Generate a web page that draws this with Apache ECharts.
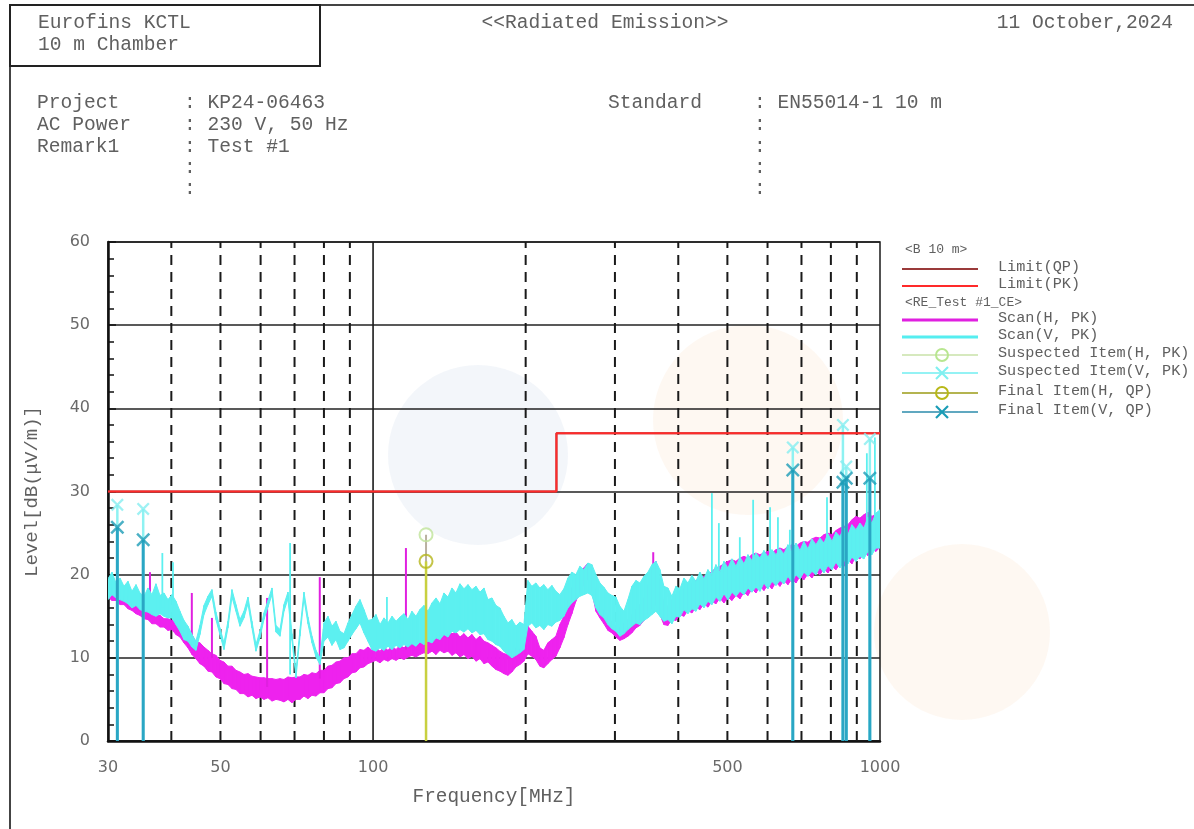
<!DOCTYPE html>
<html>
<head>
<meta charset="utf-8">
<script src="https://cdn.jsdelivr.net/npm/echarts/dist/echarts.min.js"></script>
<style>
html,body{margin:0;padding:0;background:#ffffff;}
#c{width:1194px;height:829px;}
</style>
</head>
<body>
<div id="c"></div>
<script>
// ---------- DATA ----------
const scanFreq = [
 30.0,30.55,31.11,31.68,32.26,32.85,33.45,34.07,34.69,35.33,
 35.97,36.63,37.30,37.99,38.68,39.39,40.11,40.85,41.60,42.36,
 43.14,43.93,44.73,45.55,46.39,47.24,48.10,48.98,49.88,50.80,
 51.73,52.68,53.64,54.63,55.63,56.65,57.69,58.75,59.82,60.92,
 62.04,63.18,64.34,65.52,66.72,67.94,69.19,70.46,71.75,73.06,
 74.40,75.77,77.16,78.57,80.01,81.48,82.97,84.49,86.04,87.62,
 89.23,90.86,92.53,94.22,95.95,97.71,99.50,101.3,103.2,105.1,
 107.0,109.0,111.0,113.0,115.1,117.2,119.3,121.5,123.7,126.0,
 128.3,130.7,133.1,135.5,138.0,140.5,143.1,145.7,148.4,151.1,
 153.9,156.7,159.6,162.5,165.5,168.5,171.6,174.7,177.9,181.2,
 184.5,187.9,191.3,194.8,198.4,202.0,205.7,209.5,213.3,217.2,
 221.2,225.3,229.4,233.6,237.9,242.3,246.7,251.2,255.8,260.5,
 265.3,270.2,275.2,280.2,285.3,290.6,295.9,301.3,306.8,312.5,
 318.2,324.0,330.0,336.0,342.2,348.5,354.9,361.4,368.0,374.7,
 381.6,388.6,395.7,403.0,410.4,417.9,425.6,433.4,441.3,449.4,
 457.7,466.1,474.6,483.3,492.2,501.2,510.4,519.8,529.3,539.0,
 548.9,558.9,569.2,579.6,590.2,601.1,612.1,623.3,634.7,646.4,
 658.2,670.3,682.6,695.1,707.8,720.8,734.0,747.5,761.2,775.1,
 789.3,803.8,818.5,833.5,848.8,864.4,880.2,896.4,912.8,929.5,
 946.6,963.9,981.6,1000
];

// Scan(V, PK): lower / upper edge of the noisy trace
const scanVLow = [
 17.0,17.6,17.2,17.0,16.8,16.5,16.0,16.3,15.8,15.6,
 15.5,15.2,15.0,15.3,15.0,14.8,14.8,14.0,13.2,12.2,
 12.0,11.3,10.9,12.8,15.2,16.4,17.4,14.6,12.8,11.0,
 13.6,17.3,15.6,13.8,14.8,16.5,13.6,10.8,12.4,14.6,
 16.1,17.6,13.1,12.6,15.6,17.1,12.1,7.6,12.6,17.1,
 14.1,11.8,10.1,9.2,12.0,12.5,11.5,12.2,11.0,11.2,
 12.0,12.8,13.5,14.2,13.0,12.0,11.0,10.8,11.2,10.9,
 11.4,11.0,11.5,11.2,11.6,11.3,11.7,11.4,11.9,11.6,
 12.0,11.8,12.4,12.2,12.8,12.5,13.2,13.0,13.4,13.1,
 13.5,13.0,13.3,12.8,12.9,12.2,12.0,11.6,11.4,10.8,
 10.4,10.0,10.3,10.6,11.0,13.8,14.2,13.6,13.9,13.4,
 14.0,13.8,14.3,14.5,15.0,16.0,16.6,17.0,17.4,17.6,
 17.8,17.5,16.0,15.2,14.8,14.0,13.5,13.2,12.6,12.9,
 13.4,13.8,14.2,14.0,14.5,14.8,15.2,15.6,15.0,14.4,
 14.6,14.1,15.0,14.9,15.8,15.3,15.9,15.6,16.5,16.0,
 16.8,16.4,17.3,16.8,17.7,17.0,17.9,17.4,18.0,17.6,
 18.4,17.9,18.5,18.0,19.0,18.3,19.2,18.7,19.3,18.9,
 19.8,19.1,20.0,19.5,20.3,19.8,20.4,20.0,20.9,20.2,
 21.1,20.6,21.5,20.8,21.7,21.3,22.1,21.6,22.2,21.9,
 22.8,22.4,23.2,23.2
];
const scanVHigh = [
 19.5,20.3,19.0,19.6,18.6,19.2,18.0,18.8,17.8,17.4,
 18.4,17.6,18.9,17.5,17.8,17.0,17.6,16.8,15.6,14.5,
 13.8,12.8,12.0,13.9,16.3,17.4,18.2,15.5,13.6,11.8,
 14.4,18.2,16.4,14.6,15.6,17.3,14.4,11.6,13.2,15.4,
 16.9,18.4,13.9,13.4,16.4,17.9,12.9,8.4,13.4,17.9,
 14.9,12.6,10.9,10.0,14.2,15.0,13.8,14.4,13.2,12.9,
 14.2,15.2,16.2,17.0,15.8,14.5,14.6,15.2,14.0,14.8,
 14.2,15.0,14.4,14.9,15.3,14.6,15.6,15.0,15.8,16.3,
 15.6,16.6,17.2,16.5,17.8,17.3,18.4,17.8,18.9,18.3,
 18.8,18.2,18.6,17.9,18.4,17.0,17.2,16.3,16.0,15.0,
 14.2,14.6,13.8,14.3,14.0,19.3,18.6,19.0,18.4,18.8,
 18.2,18.7,18.0,17.6,18.3,19.6,20.3,20.0,21.0,20.6,
 21.4,21.2,20.0,19.0,18.5,17.8,17.5,17.3,16.2,15.6,
 17.0,18.6,19.3,19.0,19.8,20.3,21.2,21.6,20.6,18.6,
 18.4,17.4,18.6,18.3,19.6,19.0,19.9,19.2,20.3,19.5,
 20.6,19.9,21.2,20.3,21.6,20.8,21.9,21.0,22.1,21.3,
 22.4,21.7,22.6,22.0,22.9,22.1,23.0,22.4,23.1,22.5,
 23.6,22.7,23.8,22.9,24.0,23.1,24.3,23.6,24.4,23.8,
 24.9,24.0,25.1,24.6,25.6,24.8,26.0,25.4,26.2,25.6,
 26.9,26.2,27.4,27.8
];

// Scan(H, PK): lower / upper edge of the noisy trace
const scanHLow = [
 17.3,16.9,16.9,16.4,16.4,15.9,15.7,15.3,15.1,14.7,
 14.6,14.1,14.1,13.7,13.7,13.3,13.4,12.8,12.5,11.8,
 11.2,10.4,9.9,9.3,9.0,8.4,8.3,7.7,7.5,6.9,
 6.8,6.3,6.2,5.7,5.7,5.3,5.5,5.1,5.3,5.0,
 5.2,4.8,5.0,4.9,4.7,5.0,4.6,5.0,5.0,5.4,
 5.1,5.5,5.4,5.8,5.8,6.3,6.4,6.9,7.0,7.5,
 7.7,8.2,8.3,8.8,8.9,9.3,9.5,9.7,9.4,9.8,
 9.6,9.9,9.7,10.0,9.8,10.1,10.3,10.1,10.4,10.6,
 10.5,10.8,10.4,10.9,10.6,10.8,10.3,10.6,10.1,10.4,
 9.9,10.2,9.6,9.9,9.3,9.5,9.0,8.6,8.4,8.1,
 7.9,8.3,8.9,9.2,9.6,10.5,10.2,9.8,9.0,8.8,
 9.3,9.8,10.2,11.2,12.4,14.0,15.3,16.8,17.9,18.8,
 19.5,18.0,15.6,14.8,14.1,13.3,13.0,12.5,12.1,12.3,
 12.6,13.0,13.6,13.9,14.5,15.4,16.0,16.4,15.2,14.0,
 13.9,14.6,14.5,15.2,15.0,15.7,15.4,16.1,15.8,16.5,
 16.1,16.8,16.5,17.2,16.6,17.3,16.9,17.5,17.1,17.9,
 17.5,18.3,17.8,18.6,18.1,18.8,18.3,19.1,18.6,19.3,
 18.8,19.5,19.0,19.8,19.4,20.1,19.6,20.4,20.0,20.7,
 20.2,21.0,20.6,21.3,21.0,21.8,21.3,22.2,21.9,22.7,
 22.3,23.1,22.8,23.3
];
const scanHHigh = [
 18.6,18.4,17.9,17.9,17.3,17.3,16.7,16.7,16.1,16.1,
 15.7,15.6,15.1,15.1,14.7,14.7,14.5,14.3,13.7,13.3,
 13.1,12.8,11.9,11.8,11.3,10.9,10.5,10.3,9.7,9.5,
 9.0,9.0,8.5,8.3,8.0,8.1,7.8,7.7,7.6,7.6,
 7.5,7.5,7.4,7.5,7.4,7.7,7.6,7.7,7.7,8.0,
 7.9,8.2,8.1,8.5,8.5,9.0,9.1,9.5,9.6,10.0,
 10.0,10.5,10.5,11.0,10.9,11.3,10.9,11.2,10.8,11.3,
 10.9,11.4,11.0,11.5,11.2,11.6,11.8,11.5,12.0,12.2,
 12.4,13.0,12.6,13.3,12.8,13.2,12.9,13.1,12.5,12.9,
 12.4,12.8,12.2,12.6,12.0,11.8,11.5,11.2,10.8,10.5,
 10.4,10.8,11.2,11.0,11.6,13.8,13.2,12.6,11.2,10.9,
 11.8,12.2,12.6,14.0,15.0,16.8,18.4,19.6,20.4,20.8,
 21.4,20.8,17.8,16.6,15.5,14.9,14.3,13.8,13.6,14.2,
 14.6,15.2,15.8,16.4,17.2,18.6,20.8,21.6,19.0,16.5,
 16.2,17.0,17.6,18.0,18.4,18.8,19.0,19.3,19.4,19.8,
 20.0,20.4,20.8,21.0,21.3,21.6,21.8,21.6,22.0,22.2,
 22.0,22.4,22.6,22.4,22.6,22.8,22.6,23.0,23.2,23.0,
 23.4,23.6,23.4,23.8,24.0,23.9,24.3,24.5,24.4,24.8,
 25.0,24.8,25.3,25.6,25.8,26.0,26.6,27.0,26.8,27.2,
 27.5,27.0,27.3,27.4
];

// narrow spurious spikes (freq, foot level, top level)
const spikeHFreq = [36.3, 43.9, 48.1, 61.8, 78.5, 116.1, 357, 990];
const spikeHBase = [15.5, 12.0, 10.0, 6.5, 7.5, 11.0, 17.0, 24.0];
const spikeHTop  = [20.3, 17.8, 14.8, 17.2, 19.7, 23.2, 22.7, 27.4];

const spikeVFreq = [38.4, 40.3, 68.6, 106.5, 466, 481, 529, 562, 607, 629, 664, 786, 942, 977];
const spikeVBase = [16, 16, 8, 14, 20, 20.5, 21, 21.5, 22, 22.5, 23, 24, 26, 27];
const spikeVTop  = [22.6, 21.5, 23.8, 17.3, 29.8, 26.2, 24.5, 29.0, 28.1, 26.9, 25.4, 29.3, 34.6, 36.5];

// measured items
const itemVFreq = [31.3, 35.2, 673, 845, 858, 955];
const suspectedVLevel = [28.4, 27.9, 35.3, 38.0, 33.0, 36.3];
const finalVLevel = [25.7, 24.2, 32.6, 31.1, 31.6, 31.6];
const itemHFreq = [127.2];
const suspectedHLevel = [24.8];
const finalHLevel = [21.6];

// limits
const limitFreq = [30, 230, 230, 1000];
const limitQP = [30, 30, 37, 37];
const limitPK = [30, 30, 37, 37];

// axis
const dashedGridFreq = [40, 50, 60, 70, 80, 90, 200, 300, 400, 500, 600, 700, 800, 900];
const solidGridFreq = [100];
const xTickLabels = [30, 50, 100, 500, 1000];

// ---------- CHART ----------
const zip = (a, b) => a.map((v, i) => [v, b[i]]);
const MONO = '"Liberation Mono", "DejaVu Sans Mono", monospace';
const XPATH = 'path://M0,1.5L1.5,0L6,4.5L10.5,0L12,1.5L7.5,6L12,10.5L10.5,12L6,7.5L1.5,12L0,10.5L4.5,6Z';
const TXT = '#606060';

function bandSeries(name, lo, hi, color, z) {
  return {
    type: 'custom', name: name, z: z, clip: true, silent: true,
    data: scanFreq.map((f, i) => [f, lo[i], hi[i]]),
    encode: { x: 0, y: [1, 2] },
    renderItem: function (params, api) {
      const i = params.dataIndex;
      if (i >= scanFreq.length - 1) return null;
      const pts = [
        api.coord([scanFreq[i], hi[i]]),
        api.coord([scanFreq[i + 1], hi[i + 1]]),
        api.coord([scanFreq[i + 1], lo[i + 1]]),
        api.coord([scanFreq[i], lo[i]])
      ];
      return { type: 'polygon', shape: { points: pts }, style: { fill: color, stroke: color, lineWidth: 1 } };
    }
  };
}
function spikeSeries(freq, base, top, color, width, z) {
  return {
    type: 'custom', z: z, clip: true, silent: true,
    data: freq.map((f, i) => [f, base[i], top[i]]),
    encode: { x: 0, y: [1, 2] },
    renderItem: function (params, api) {
      const a = api.coord([api.value(0), api.value(1)]);
      const b = api.coord([api.value(0), api.value(2)]);
      return { type: 'line', shape: { x1: a[0], y1: a[1], x2: b[0], y2: b[1] }, style: { stroke: color, lineWidth: width } };
    }
  };
}
function stemSeries(freq, level, color, width, z) {
  return {
    type: 'custom', z: z, clip: true, silent: true,
    data: zip(freq, level),
    encode: { x: 0, y: 1 },
    renderItem: function (params, api) {
      const a = api.coord([api.value(0), 0]);
      const b = api.coord([api.value(0), api.value(1)]);
      return { type: 'line', shape: { x1: a[0], y1: a[1], x2: b[0], y2: b[1] }, style: { stroke: color, lineWidth: width } };
    }
  };
}
function gridSeries(freq, dashed) {
  return {
    type: 'custom', z: 1, clip: true, silent: true,
    data: freq.map(f => [f, 0]),
    encode: { x: 0, y: 1 },
    renderItem: function (params, api) {
      const a = api.coord([api.value(0), 0]);
      const b = api.coord([api.value(0), 60]);
      return { type: 'line', shape: { x1: a[0], y1: a[1], x2: b[0], y2: b[1] },
        style: { stroke: '#1a1a1a', lineWidth: dashed ? 2 : 1.6, lineDash: dashed ? [10, 7] : null } };
    }
  };
}

const chart = echarts.init(document.getElementById('c'), null, { renderer: 'canvas' });

// legend pieces (drawn as graphics)
const legendRows = [
  { label: 'Limit(QP)', y: 269, line: '#9a3a3a', lw: 2 },
  { label: 'Limit(PK)', y: 286, line: '#ff2a2a', lw: 2 },
  { label: 'Scan(H, PK)', y: 320, line: '#e020e0', lw: 3 },
  { label: 'Scan(V, PK)', y: 337, line: '#55eef0', lw: 3 },
  { label: 'Suspected Item(H, PK)', y: 355, line: '#c8e2a8', lw: 1.5, mark: 'circle', mc: '#b8e690' },
  { label: 'Suspected Item(V, PK)', y: 373, line: '#70eef0', lw: 1.5, mark: 'x', mc: '#80f0f0' },
  { label: 'Final Item(H, QP)', y: 393, line: '#b4b450', lw: 2, mark: 'circle', mc: '#b8b818' },
  { label: 'Final Item(V, QP)', y: 412, line: '#60a8c0', lw: 2, mark: 'x', mc: '#1a9cb6' }
];
const graphics = [];
// faint watermark
graphics.push({ type: 'circle', z: -5, silent: true, shape: { cx: 478, cy: 455, r: 90 }, style: { fill: 'rgba(215,225,240,0.3)' } });
graphics.push({ type: 'circle', z: -5, silent: true, shape: { cx: 748, cy: 420, r: 95 }, style: { fill: 'rgba(252,232,212,0.3)' } });
graphics.push({ type: 'circle', z: -5, silent: true, shape: { cx: 962, cy: 632, r: 88 }, style: { fill: 'rgba(252,232,212,0.3)' } });
// page frame
graphics.push({ type: 'line', z: 10, silent: true, shape: { x1: 10, y1: 5, x2: 1194, y2: 5 }, style: { stroke: '#444', lineWidth: 2 } });
graphics.push({ type: 'line', z: 10, silent: true, shape: { x1: 10, y1: 5, x2: 10, y2: 829 }, style: { stroke: '#444', lineWidth: 2 } });
graphics.push({ type: 'rect', z: 10, silent: true, shape: { x: 10, y: 5, width: 310, height: 61 }, style: { fill: 'none', stroke: '#222', lineWidth: 2 } });

function txt(s, x, y, size, align, color) {
  graphics.push({ type: 'text', z: 10, silent: true, x: x, y: y,
    style: { text: s, font: size + 'px ' + MONO, fill: color || TXT,
      textAlign: align || 'left', textVerticalAlign: 'middle', align: align || 'left', verticalAlign: 'middle' } });
}
txt('Eurofins KCTL', 38, 23, 19.6);
txt('10 m Chamber', 38, 45, 19.6);
txt('<<Radiated Emission>>', 605, 23, 19.6, 'center');
txt('11 October,2024', 1173, 23, 19.6, 'right');
txt('Project', 37, 103, 19.6);
txt('AC Power', 37, 125, 19.6);
txt('Remark1', 37, 147, 19.6);
txt(': KP24-06463', 184, 103, 19.6);
txt(': 230 V, 50 Hz', 184, 125, 19.6);
txt(': Test #1', 184, 147, 19.6);
txt(':', 184, 168, 19.6);
txt(':', 184, 189, 19.6);
txt('Standard', 608, 103, 19.6);
txt(': EN55014-1 10 m', 754, 103, 19.6);
txt(':', 754, 125, 19.6);
txt(':', 754, 147, 19.6);
txt(':', 754, 168, 19.6);
txt(':', 754, 189, 19.6);

// legend
txt('<B 10 m>', 905, 250, 13, 'left', '#606060');
txt('<RE_Test #1_CE>', 905, 303, 13, 'left', '#606060');
legendRows.forEach(r => {
  graphics.push({ type: 'line', z: 10, silent: true, shape: { x1: 902, y1: r.y, x2: 978, y2: r.y }, style: { stroke: r.line, lineWidth: r.lw } });
  if (r.mark === 'circle') {
    graphics.push({ type: 'circle', z: 11, silent: true, shape: { cx: 942, cy: r.y, r: 6 }, style: { fill: 'none', stroke: r.mc, lineWidth: 2 } });
  } else if (r.mark === 'x') {
    graphics.push({ type: 'line', z: 11, silent: true, shape: { x1: 936, y1: r.y - 6, x2: 948, y2: r.y + 6 }, style: { stroke: r.mc, lineWidth: 2.2 } });
    graphics.push({ type: 'line', z: 11, silent: true, shape: { x1: 936, y1: r.y + 6, x2: 948, y2: r.y - 6 }, style: { stroke: r.mc, lineWidth: 2.2 } });
  }
  txt(r.label, 998, r.y - 2, 15.2, 'left', '#606060');
});

const option = {
  animation: false,
  backgroundColor: '#ffffff',
  grid: { left: 108, right: 314, top: 242, bottom: 88, show: true, borderColor: '#1a1a1a', borderWidth: 1.5, backgroundColor: 'transparent' },
  xAxis: {
    type: 'log', logBase: 10, min: 30, max: 1000,
    axisLine: { show: true, onZero: false, lineStyle: { color: '#111', width: 2.5 } },
    axisTick: { show: false }, minorTick: { show: false },
    axisLabel: { show: false }, splitLine: { show: false }, minorSplitLine: { show: false },
    name: 'Frequency[MHz]', nameLocation: 'middle', nameGap: 46,
    nameTextStyle: { fontFamily: MONO, fontSize: 19.4, color: TXT }
  },
  yAxis: {
    type: 'value', min: 0, max: 60, interval: 10,
    axisLine: { show: true, lineStyle: { color: '#111', width: 2.5 } },
    axisTick: { show: true, inside: true, length: 8, lineStyle: { color: '#111', width: 1.5 } },
    minorTick: { show: true, splitNumber: 5, length: 6, lineStyle: { color: '#111', width: 1.5 } },
    splitLine: { show: true, lineStyle: { color: '#222', width: 1.6 } },
    axisLabel: { color: '#6a6a6a', fontSize: 16, fontFamily: 'DejaVu Sans', margin: 18 },
    name: 'Level[dB(μV/m)]', nameLocation: 'middle', nameRotate: 90, nameGap: 67,
    nameTextStyle: { fontFamily: MONO, fontSize: 19, color: TXT }
  },
  graphic: { elements: graphics },
  series: [
    gridSeries(dashedGridFreq, true),
    gridSeries(solidGridFreq, false),
    bandSeries('Scan(H, PK)', scanHLow, scanHHigh, '#ee22ee', 3),
    spikeSeries(spikeHFreq, spikeHBase, spikeHTop, '#e020e0', 2, 3),
    stemSeries(itemVFreq, suspectedVLevel, '#8ef2f2', 2.5, 4),
    bandSeries('Scan(V, PK)', scanVLow, scanVHigh, '#5cf0f0', 5),
    spikeSeries(spikeVFreq, spikeVBase, spikeVTop, '#5cf0f0', 1.8, 5),
    stemSeries(itemHFreq, suspectedHLevel, '#b9b0a0', 2, 6),
    stemSeries(itemHFreq, finalHLevel, '#c8d040', 2.5, 7),
    stemSeries(itemVFreq, finalVLevel, '#2aa6c4', 3, 7),
    { type: 'line', name: 'Limit(QP)', z: 8, silent: true, symbol: 'none', data: zip(limitFreq, limitQP), lineStyle: { color: '#9a3a3a', width: 2 } },
    { type: 'line', name: 'Limit(PK)', z: 8, silent: true, symbol: 'none', data: zip(limitFreq, limitPK), lineStyle: { color: '#ff2a2a', width: 2 } },
    { type: 'scatter', name: 'Suspected Item(V, PK)', z: 9, silent: true, symbol: XPATH, symbolSize: 13, data: zip(itemVFreq, suspectedVLevel), itemStyle: { color: '#86eef0' } },
    { type: 'scatter', name: 'Final Item(V, QP)', z: 9, silent: true, symbol: XPATH, symbolSize: 14, data: zip(itemVFreq, finalVLevel), itemStyle: { color: '#1d9cb6' } },
    { type: 'scatter', name: 'Suspected Item(H, PK)', z: 9, silent: true, symbol: 'circle', symbolSize: 13, data: zip(itemHFreq, suspectedHLevel), itemStyle: { color: 'rgba(0,0,0,0)', borderColor: '#bfe39a', borderWidth: 2 } },
    { type: 'scatter', name: 'Final Item(H, QP)', z: 9, silent: true, symbol: 'circle', symbolSize: 13, data: zip(itemHFreq, finalHLevel), itemStyle: { color: 'rgba(0,0,0,0)', borderColor: '#b5b51a', borderWidth: 2 } },
    {
      type: 'custom', z: 10, clip: false, silent: true,
      data: xTickLabels.map(v => [v, 0]),
      encode: { x: 0, y: 1 },
      renderItem: function (params, api) {
        const p = api.coord([api.value(0), 0]);
        return { type: 'text', x: p[0], y: p[1] + 27,
          style: { text: String(api.value(0)), font: '16px "DejaVu Sans"', fill: '#6a6a6a',
            textAlign: 'center', textVerticalAlign: 'middle', align: 'center', verticalAlign: 'middle' } };
      }
    }
  ]
};
chart.setOption(option);
</script>
</body>
</html>
